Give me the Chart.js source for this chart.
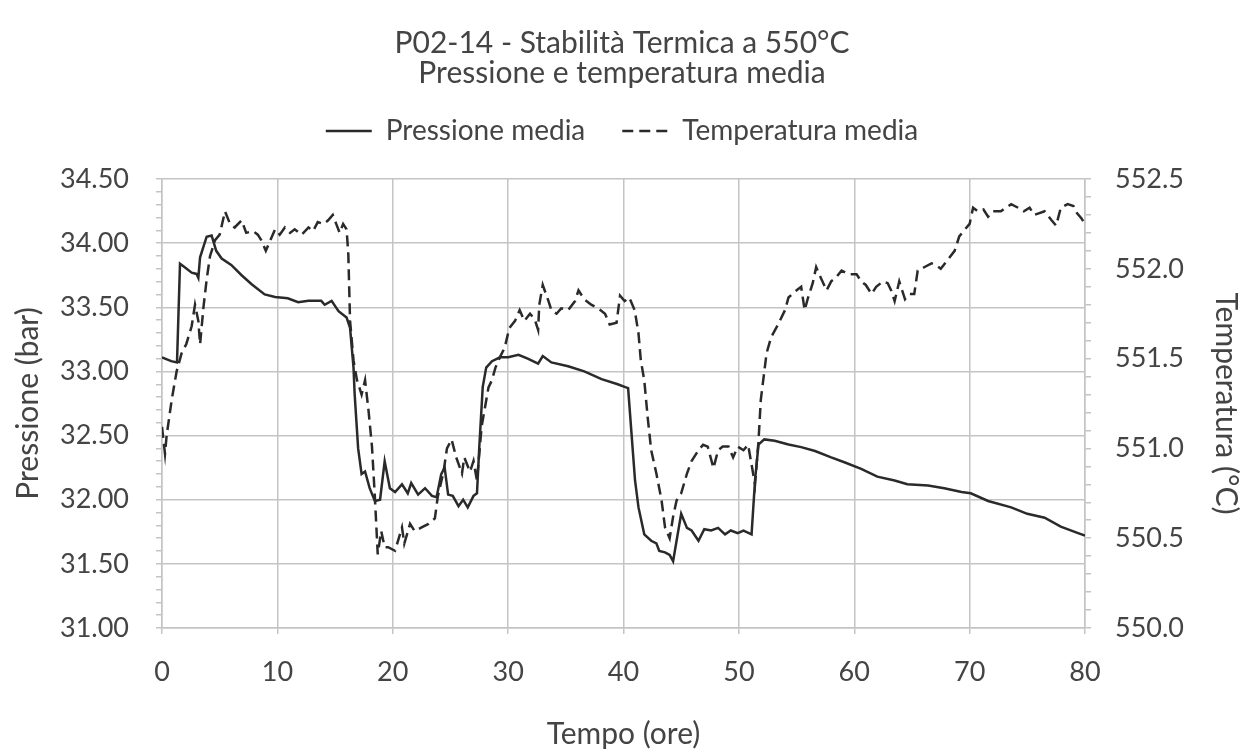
<!DOCTYPE html>
<html>
<head>
<meta charset="utf-8">
<script src="https://cdn.jsdelivr.net/npm/chart.js@4.4.1/dist/chart.umd.min.js"></script>
<style>
  html, body { margin: 0; padding: 0; background: #fff; }
  #chart { display: block; }
</style>
</head>
<body>
<canvas id="chart" width="1244" height="749"></canvas>
<script>
// Pressione media (bar) in funzione del tempo (ore)
const orePressione = [
  0.0, 0.8, 1.3, 1.56, 2.0, 2.57, 3.0, 3.15, 3.3, 3.87, 4.3, 4.7, 5.17, 6.0, 6.9, 7.77, 8.9, 9.8,
  10.9, 11.8, 12.7, 13.8, 14.1, 14.7, 15.3, 16.0, 16.3, 16.6, 16.7, 17.0, 17.3, 17.6, 18.0, 18.45,
  18.9, 19.3, 19.75, 20.2, 20.8, 21.3, 21.6, 22.2, 22.8, 23.4, 23.8, 24.2, 24.5, 24.8, 25.2, 25.7,
  26.1, 26.5, 27.0, 27.3, 27.5, 27.8, 28.1, 28.6, 29.3, 30.0, 30.9, 31.7, 32.6, 33.0, 33.75, 35.2,
  36.6, 38.1, 39.5, 40.1, 40.4, 40.7, 41.0, 41.3, 41.8, 42.4, 42.85, 43.1, 43.6, 44.0, 44.3, 44.6,
  45.0, 45.5, 45.9, 46.5, 47.0, 47.6, 48.2, 48.8, 49.3, 49.9, 50.4, 51.1, 51.4, 51.7, 52.2, 53.1,
  54.3, 55.4, 56.6, 58.0, 59.2, 60.6, 62.0, 63.5, 64.6, 66.4, 67.8, 69.3, 70.1, 71.6, 73.6, 75.0,
  76.5, 77.9, 79.4, 80.0
];
const pressione = [
  33.11, 33.08, 33.07, 33.84, 33.81, 33.77, 33.76, 33.73, 33.89, 34.05, 34.06, 33.94, 33.88, 33.83, 33.75, 33.68, 33.60, 33.58,
  33.57, 33.54, 33.55, 33.55, 33.52, 33.55, 33.47, 33.42, 33.34, 33.03, 32.82, 32.40, 32.20, 32.22, 32.09, 31.99,
  32.00, 32.30, 32.09, 32.06, 32.12, 32.05, 32.13, 32.04, 32.09, 32.03, 32.02, 32.20, 32.25, 32.04, 32.03, 31.95,
  32.00, 31.94, 32.03, 32.05, 32.41, 32.88, 33.03, 33.08, 33.11, 33.11, 33.13, 33.10, 33.06, 33.12, 33.07, 33.04,
  33.00, 32.94, 32.90, 32.88, 32.87, 32.51, 32.15, 31.94, 31.73, 31.68, 31.66, 31.60, 31.59, 31.57, 31.52, 31.68,
  31.89, 31.78, 31.76, 31.68, 31.77, 31.76, 31.78, 31.73, 31.76, 31.74, 31.76, 31.73, 32.15, 32.43, 32.47, 32.46,
  32.43, 32.41, 32.38, 32.33, 32.29, 32.24, 32.18, 32.15, 32.12, 32.11, 32.09, 32.06, 32.05, 31.99, 31.94, 31.89,
  31.86, 31.79, 31.74, 31.72
];

// Temperatura media (°C) in funzione del tempo (ore)
const oreTemperatura = [
  0.0, 0.26, 0.4, 0.84, 1.27, 1.7, 2.1, 2.57, 2.86, 3.15, 3.3, 3.6, 3.87, 4.16, 4.6, 5.0, 5.46, 5.9,
  6.3, 6.9, 7.3, 7.9, 8.3, 8.6, 9.0, 9.4, 9.8, 10.2, 10.65, 11.1, 11.5, 12.1, 12.7, 13.1, 13.5, 14.0,
  14.4, 14.8, 15.1, 15.4, 15.7, 16.0, 16.15, 16.3, 16.6, 16.9, 17.3, 17.6, 17.9, 18.2, 18.45, 18.7,
  19.0, 19.3, 19.6, 20.2, 20.8, 21.0, 21.5, 21.9, 22.5, 23.1, 23.65, 23.9, 24.4, 24.7, 25.1, 25.5,
  26.0, 26.2, 26.7, 27.0, 27.3, 27.5, 27.7, 28.0, 28.3, 28.6, 28.9, 29.3, 29.7, 30.1, 30.6, 31.0,
  31.4, 31.9, 32.3, 32.6, 32.7, 33.0, 33.5, 33.75, 34.2, 34.6, 35.2, 35.8, 36.1, 36.6, 37.2, 37.8,
  38.4, 38.8, 39.4, 39.7, 40.1, 40.5, 40.97, 41.3, 41.5, 41.8, 42.1, 42.4, 42.85, 43.3, 43.6, 44.0,
  44.3, 44.6, 45.0, 45.5, 45.9, 46.5, 46.9, 47.3, 47.8, 48.2, 48.6, 49.1, 49.5, 49.9, 50.4, 50.8,
  51.1, 51.4, 51.7, 51.9, 52.4, 52.8, 53.4, 54.0, 54.3, 54.8, 55.4, 55.7, 56.0, 56.4, 56.7, 57.1,
  57.6, 58.0, 58.4, 58.9, 59.5, 60.2, 60.6, 61.0, 61.5, 61.9, 62.5, 62.9, 63.2, 63.5, 63.9, 64.4,
  64.8, 65.2, 65.5, 66.1, 66.7, 67.1, 67.5, 68.1, 68.7, 69.1, 69.6, 70.0, 70.3, 70.7, 71.2, 71.6,
  72.0, 72.7, 73.6, 74.2, 74.7, 75.2, 75.6, 76.5, 77.1, 77.5, 77.9, 78.5, 79.0, 79.3, 79.7, 80.0
];
const temperatura = [
  551.12, 550.97, 551.07, 551.27, 551.43, 551.53, 551.58, 551.68, 551.80, 551.71, 551.58, 551.79, 551.94, 552.07, 552.16, 552.19, 552.32, 552.25,
  552.23, 552.27, 552.20, 552.21, 552.19, 552.16, 552.10, 552.16, 552.22, 552.19, 552.23, 552.20, 552.22, 552.19, 552.23, 552.21, 552.26, 552.25,
  552.27, 552.30, 552.25, 552.20, 552.25, 552.22, 552.08, 551.71, 551.49, 551.38, 551.30, 551.38, 551.21, 551.01, 550.73, 550.41,
  550.54, 550.45, 550.45, 550.43, 550.56, 550.47, 550.58, 550.54, 550.56, 550.58, 550.61, 550.73, 550.87, 551.00, 551.05, 550.95,
  550.86, 550.95, 550.87, 550.93, 550.82, 550.97, 551.12, 551.23, 551.34, 551.38, 551.45, 551.51, 551.56, 551.67, 551.71, 551.77,
  551.71, 551.75, 551.72, 551.66, 551.80, 551.91, 551.82, 551.77, 551.75, 551.78, 551.77, 551.82, 551.88, 551.83, 551.80, 551.78,
  551.75, 551.69, 551.70, 551.85, 551.82, 551.84, 551.77, 551.64, 551.49, 551.38, 551.17, 550.99, 550.86, 550.71, 550.56, 550.50,
  550.62, 550.71, 550.75, 550.86, 550.93, 550.99, 551.02, 551.01, 550.89, 550.99, 551.01, 551.01, 550.95, 551.01, 550.99, 551.02,
  550.91, 550.80, 551.04, 551.27, 551.53, 551.62, 551.69, 551.77, 551.84, 551.87, 551.90, 551.77, 551.84, 551.92, 552.01, 551.95,
  551.88, 551.93, 551.95, 551.99, 551.97, 551.97, 551.93, 551.91, 551.86, 551.90, 551.93, 551.92, 551.88, 551.82, 551.93, 551.83,
  551.86, 551.86, 551.99, 552.01, 552.03, 552.02, 552.00, 552.05, 552.10, 552.18, 552.22, 552.25, 552.34, 552.32, 552.33, 552.29,
  552.32, 552.32, 552.36, 552.34, 552.32, 552.34, 552.30, 552.32, 552.27, 552.24, 552.34, 552.36, 552.35, 552.31, 552.28, 552.25
];

const titolo = ['P02-14 - Stabilità Termica a 550°C', 'Pressione e temperatura media'];
const limitiOre = [0, 80];
const limitiPressione = [31, 34.5];
const limitiTemperatura = [550, 552.5];

const grigio = '#c4c4c4';
const testo = '#444444';
const linea = '#2a2a2a';

Chart.defaults.font.family = 'Lato, "Open Sans", sans-serif';
Chart.defaults.color = testo;

// tacche principali ogni 0.5, secondarie ogni 0.1
function principale(v) {
  return Math.abs(v * 2 - Math.round(v * 2)) < 1e-6;
}

const punti = (xs, ys) => xs.map((x, i) => ({ x: x, y: ys[i] }));

// spazio vuoto tra la legenda e l'area del grafico
const spaziatore = {
  id: 'spaziatore',
  beforeInit(chart) {
    Chart.layouts.addBox(chart, {
      position: 'top',
      weight: 0,
      fullSize: true,
      options: {},
      width: 0,
      height: 0,
      update(maxWidth) { this.width = maxWidth; this.height = 24; },
      isHorizontal() { return true; },
      draw() {}
    });
  }
};

var ctx = document.getElementById('chart').getContext('2d');
var grafico = new Chart(ctx, {
  type: 'line',
  data: {
    datasets: [{
      label: 'Pressione media',
      data: punti(orePressione, pressione),
      yAxisID: 'y',
      borderColor: linea,
      borderWidth: 2.5,
      pointRadius: 0,
      tension: 0,
      fill: false
    }, {
      label: 'Temperatura media',
      data: punti(oreTemperatura, temperatura),
      yAxisID: 'y1',
      borderColor: linea,
      borderWidth: 2.5,
      borderDash: [11, 6],
      pointRadius: 0,
      tension: 0,
      fill: false
    }]
  },
  plugins: [spaziatore],
  options: {
    responsive: false,
    animation: false,
    layout: { padding: 0 },
    plugins: {
      title: {
        display: true,
        text: titolo,
        color: testo,
        font: { size: 30, weight: 'normal', lineHeight: 1.0 },
        padding: { top: 28, bottom: -8 }
      },
      legend: {
        position: 'top',
        labels: {
          usePointStyle: true,
          pointStyle: 'line',
          pointStyleWidth: 46,
          color: testo,
          font: { size: 28 },
          padding: 37,
          generateLabels: function(chart) {
            const voci = Chart.defaults.plugins.legend.labels.generateLabels(chart);
            voci.forEach(function(v, i) {
              const ds = chart.data.datasets[i];
              v.lineDash = ds.borderDash || [];
              v.lineWidth = ds.borderWidth;
              v.strokeStyle = ds.borderColor;
            });
            return voci;
          }
        }
      },
      tooltip: { enabled: false }
    },
    scales: {
      x: {
        type: 'linear',
        min: limitiOre[0],
        max: limitiOre[1],
        ticks: { stepSize: 10, font: { size: 27 }, padding: 22 },
        grid: { color: grigio, lineWidth: 1.5, tickLength: 6 },
        border: { color: grigio, width: 1.5 },
        title: { display: true, text: 'Tempo (ore)', font: { size: 30, lineHeight: 1.0 }, padding: 0 },
        afterFit: function(s) { s.height = 121; }
      },
      y: {
        position: 'left',
        min: limitiPressione[0],
        max: limitiPressione[1],
        ticks: {
          stepSize: 0.1,
          autoSkip: false,
          font: { size: 27 },
          padding: 27,
          callback: v => principale(v) ? v.toFixed(2) : ''
        },
        grid: {
          color: c => principale(c.tick.value) ? grigio : 'rgba(0,0,0,0)',
          tickColor: grigio,
          tickLength: 6,
          lineWidth: 1.5
        },
        border: { color: grigio, width: 1.5 },
        title: { display: true, text: 'Pressione (bar)', font: { size: 30 }, padding: { top: 10, bottom: 0 } },
        afterFit: function(s) { s.width = 162; }
      },
      y1: {
        position: 'right',
        min: limitiTemperatura[0],
        max: limitiTemperatura[1],
        ticks: {
          stepSize: 0.1,
          autoSkip: false,
          font: { size: 27 },
          padding: 24,
          callback: v => principale(v) ? v.toFixed(1) : ''
        },
        grid: {
          drawOnChartArea: false,
          tickColor: grigio,
          tickLength: 6,
          lineWidth: 1.5
        },
        border: { color: grigio, width: 1.5 },
        title: { display: true, text: 'Temperatura (°C)', font: { size: 30 }, padding: { top: 0, bottom: 0 } },
        afterFit: function(s) { s.width = 159; }
      }
    }
  }
});
</script>
</body>
</html>
